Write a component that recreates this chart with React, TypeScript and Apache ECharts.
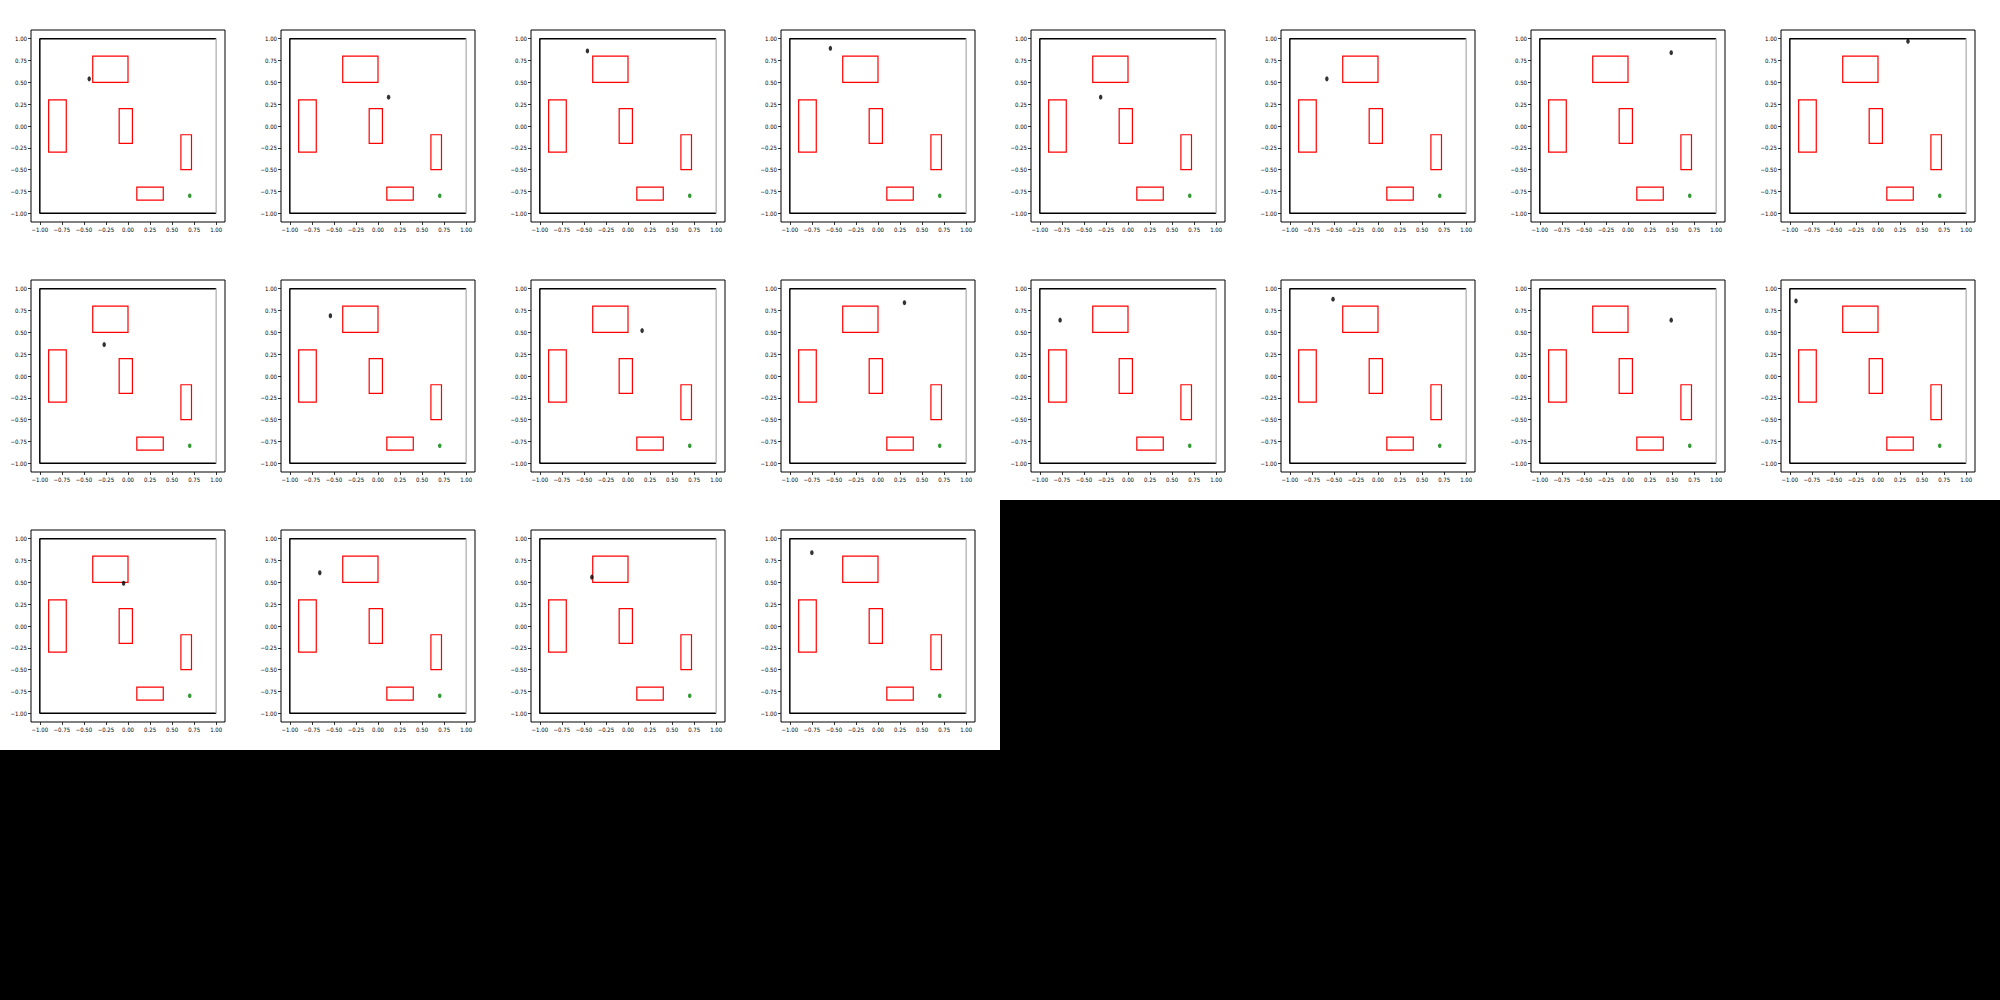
import React, { useEffect, useRef } from "react";
import * as echarts from "echarts";

// Agent (black dot) position for each of the 20 frames
const AGENT_X = [-0.44, 0.12, -0.46, -0.54, -0.31, -0.58, 0.49, 0.34, -0.27, -0.54, 0.16, 0.3, -0.77, -0.51, 0.49, -0.93, -0.05, -0.66, -0.41, -0.75];
const AGENT_Y = [0.54, 0.33, 0.86, 0.89, 0.33, 0.54, 0.84, 0.97, 0.36, 0.69, 0.52, 0.84, 0.64, 0.88, 0.64, 0.86, 0.49, 0.61, 0.56, 0.84];

// Goal (green dot)
const GOAL_X = [0.7];
const GOAL_Y = [-0.8];

// Obstacles (red rectangles): x0, y0, x1, y1
const OBS_X0 = [-0.4, -0.9, -0.1, 0.6, 0.1];
const OBS_Y0 = [0.5, -0.3, -0.2, -0.5, -0.85];
const OBS_X1 = [0.0, -0.7, 0.05, 0.72, 0.4];
const OBS_Y1 = [0.8, 0.3, 0.2, -0.1, -0.7];

// Environment boundary
const WALL_X = [1, -1, -1, 1];
const WALL_Y = [-1, -1, 1, 1];
const WALL_RIGHT_X = [1, 1];
const WALL_RIGHT_Y = [1, -1];

// Tick values (both axes)
const TICKS = [-1, -0.75, -0.5, -0.25, 0, 0.25, 0.5, 0.75, 1];

const PANEL = 250;
const COLS = 8;
const FONT = "'DejaVu Sans Condensed', 'DejaVu Sans', sans-serif";

function fmt(v: number) {
  const s = Math.abs(v).toFixed(2);
  return v < 0 ? "\u2212" + s : s;
}

export default function App() {
  const ref = useRef<HTMLDivElement>(null);

  useEffect(() => {
    if (!ref.current) return;
    const chart = echarts.init(ref.current, null, { renderer: "svg" });
    const n = AGENT_X.length;
    const grids: any[] = [];
    const xAxes: any[] = [];
    const yAxes: any[] = [];
    const series: any[] = [];
    const obstacles = OBS_X0.map((x0, i) => [x0, OBS_Y0[i], OBS_X1[i], OBS_Y1[i]]);

    for (let k = 0; k < n; k++) {
      const col = k % COLS;
      const row = Math.floor(k / COLS);
      grids.push({
        left: col * PANEL + 31,
        top: row * PANEL + 30,
        width: 194,
        height: 192,
        show: true,
        borderColor: "#000",
        borderWidth: 1,
        backgroundColor: "#fff",
      });
      const axisCommon = {
        type: "value",
        min: -1.1,
        max: 1.1,
        gridIndex: k,
        splitLine: { show: false },
        axisLine: { show: false, onZero: false },
        axisTick: { show: true, customValues: TICKS, length: 3, lineStyle: { color: "#000", width: 0.8 } },
      };
      xAxes.push({
        ...axisCommon,
        axisLabel: { customValues: TICKS, formatter: fmt, fontSize: 6, fontFamily: FONT, color: "#000", margin: 4 },
      });
      yAxes.push({
        ...axisCommon,
        axisLabel: { customValues: TICKS, formatter: fmt, fontSize: 6, fontFamily: FONT, color: "#000", margin: 4 },
      });

      series.push({
        type: "line",
        xAxisIndex: k,
        yAxisIndex: k,
        data: WALL_X.map((x, i) => [x, WALL_Y[i]]),
        symbol: "none",
        lineStyle: { color: "#000", width: 1.5 },
        silent: true,
        z: 2,
      });
      series.push({
        type: "line",
        xAxisIndex: k,
        yAxisIndex: k,
        data: WALL_RIGHT_X.map((x, i) => [x, WALL_RIGHT_Y[i]]),
        symbol: "none",
        lineStyle: { color: "#bbb", width: 1.5 },
        silent: true,
        z: 2,
      });
      series.push({
        type: "custom",
        xAxisIndex: k,
        yAxisIndex: k,
        data: obstacles,
        clip: false,
        silent: true,
        z: 3,
        renderItem: (params: any, api: any) => {
          const p0 = api.coord([api.value(0), api.value(3)]);
          const p1 = api.coord([api.value(2), api.value(1)]);
          return {
            type: "rect",
            shape: { x: p0[0], y: p0[1], width: p1[0] - p0[0], height: p1[1] - p0[1] },
            style: { fill: "none", stroke: "#ff0000", lineWidth: 1.2 },
          };
        },
      });
      series.push({
        type: "scatter",
        xAxisIndex: k,
        yAxisIndex: k,
        data: GOAL_X.map((x, i) => [x, GOAL_Y[i]]),
        symbol: "circle",
        symbolSize: [3.5, 4.5],
        itemStyle: { color: "#008000" },
        silent: true,
        z: 4,
      });
      series.push({
        type: "scatter",
        xAxisIndex: k,
        yAxisIndex: k,
        data: [[AGENT_X[k], AGENT_Y[k]]],
        symbol: "circle",
        symbolSize: [3.5, 5],
        itemStyle: { color: "#000" },
        silent: true,
        z: 5,
      });
    }

    chart.setOption({
      animation: false,
      backgroundColor: "transparent",
      grid: grids,
      xAxis: xAxes,
      yAxis: yAxes,
      series,
    });
    return () => chart.dispose();
  }, []);

  return (
    <div style={{ position: "fixed", left: 0, top: 0, width: 2000, height: 1000, background: "#000", overflow: "hidden" }}>
      <div style={{ position: "absolute", left: 0, top: 0, width: 2000, height: 500, background: "#fff" }} />
      <div style={{ position: "absolute", left: 0, top: 500, width: 1000, height: 250, background: "#fff" }} />
      <div ref={ref} style={{ position: "absolute", left: 0, top: 0, width: 2000, height: 1000 }} />
    </div>
  );
}
